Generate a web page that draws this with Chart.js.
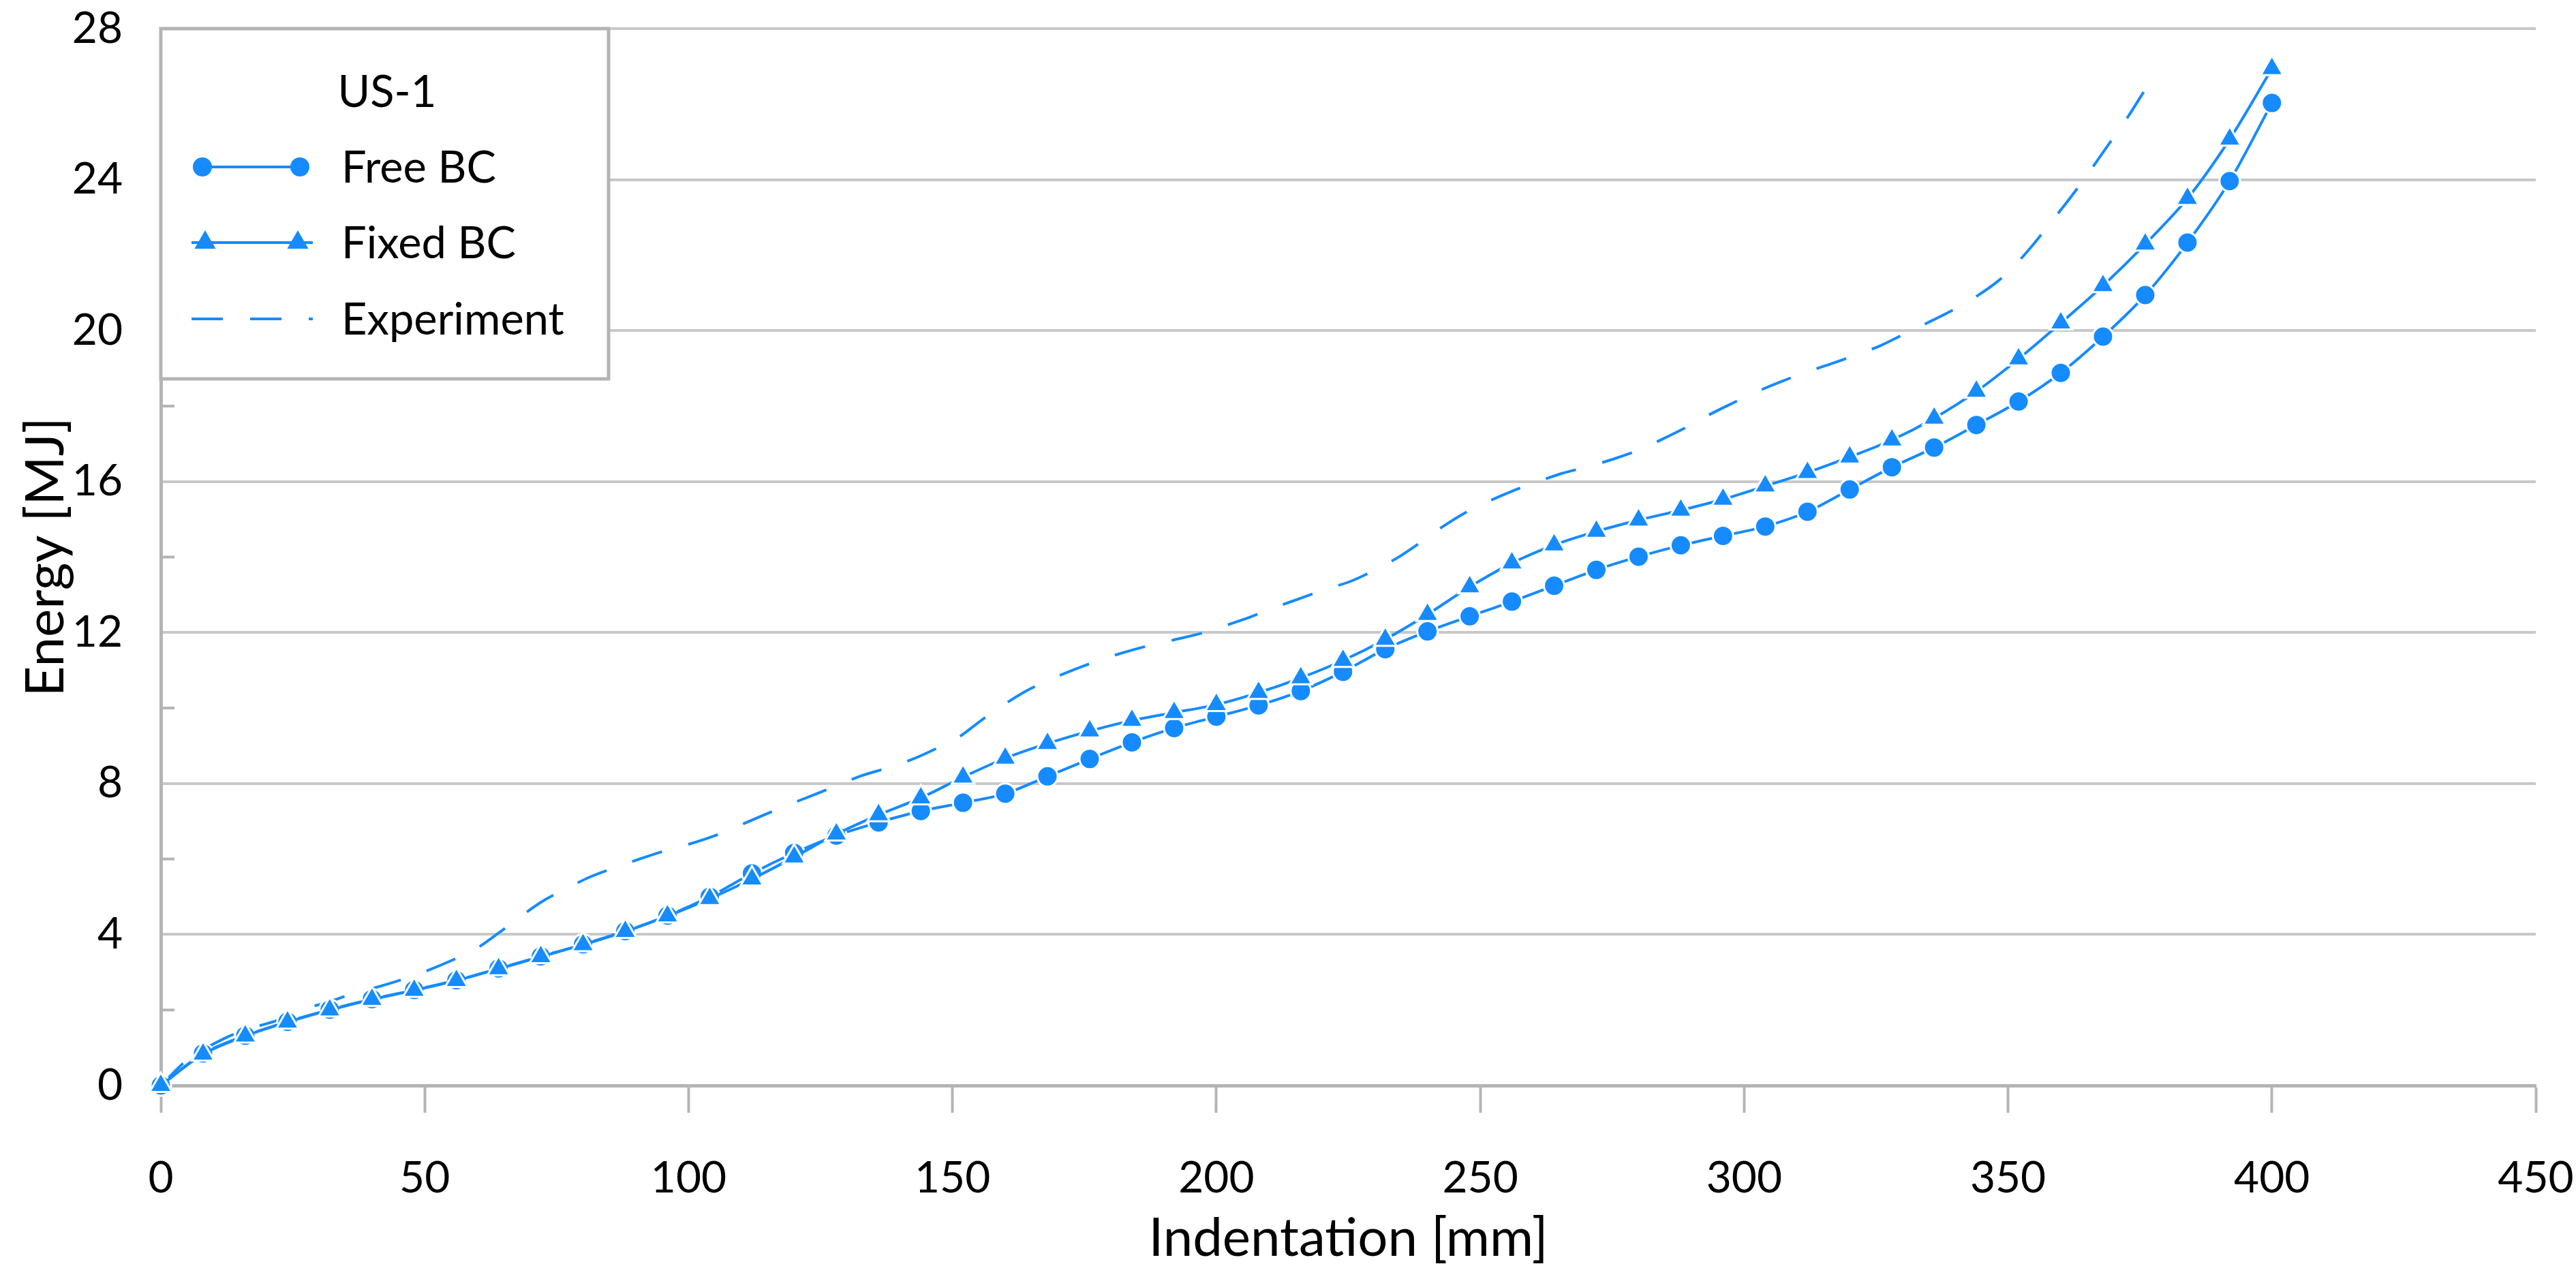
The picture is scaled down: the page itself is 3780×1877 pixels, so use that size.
<!DOCTYPE html>
<html>
<head>
<meta charset="utf-8">
<title>US-1 Energy vs Indentation</title>
<script src="https://cdn.jsdelivr.net/npm/chart.js@4.4.1/dist/chart.umd.min.js"></script>
<style>
  html, body { margin: 0; padding: 0; background: #fff; }
  canvas { display: block; }
</style>
</head>
<body>
<canvas id="myChart" width="3780" height="1877"></canvas>
<script>
// simulation steps [mm]
const simX = [0, 8, 16, 24, 32, 40, 48, 56, 64, 72, 80, 88, 96, 104, 112, 120, 128, 136, 144, 152,
  160, 168, 176, 184, 192, 200, 208, 216, 224, 232, 240, 248, 256, 264, 272, 280, 288, 296, 304,
  312, 320, 328, 336, 344, 352, 360, 368, 376, 384, 392, 400];

// energy [MJ]
const freeBC = [0, 0.85, 1.32, 1.69, 2.01, 2.29, 2.53, 2.79, 3.10, 3.42, 3.74, 4.09, 4.50, 5.00, 5.62,
  6.16, 6.62, 6.97, 7.27, 7.49, 7.73, 8.19, 8.65, 9.09, 9.47, 9.77, 10.07, 10.45, 10.96, 11.56, 12.03,
  12.43, 12.82, 13.24, 13.66, 14.01, 14.31, 14.56, 14.81, 15.20, 15.79, 16.38, 16.90, 17.50, 18.12,
  18.88, 19.84, 20.94, 22.33, 23.96, 26.03];

const fixedBC = [0, 0.83, 1.31, 1.68, 2.00, 2.28, 2.52, 2.78, 3.09, 3.41, 3.73, 4.08, 4.49, 4.95, 5.47,
  6.05, 6.66, 7.17, 7.62, 8.17, 8.67, 9.06, 9.39, 9.67, 9.88, 10.09, 10.41, 10.80, 11.26, 11.82, 12.48,
  13.21, 13.84, 14.32, 14.68, 14.98, 15.24, 15.53, 15.88, 16.24, 16.65, 17.10, 17.68, 18.39, 19.25,
  20.20, 21.19, 22.29, 23.50, 25.07, 26.94];

// experiment curve
const expX = [0, 5.4, 12.4, 17.2, 22.0, 26.8, 31.2, 36.4, 41.1, 46.0, 50.6, 55.4, 59.7, 64.0, 67.8,
  72.3, 76.6, 81.1, 85.6, 90.5, 95.1, 100.0, 104.8, 109.5, 114.0, 118.8, 123.2, 128.2, 132.6, 137.6,
  142.2, 147.0, 151.2, 155.5, 159.2, 163.8, 168.1, 172.9, 177.5, 182.4, 187.1, 192.1, 196.9, 201.8,
  206.4, 211.2, 215.8, 220.8, 225.3, 230.1, 234.3, 238.7, 242.6, 247.1, 251.3, 256.1, 260.7, 265.6,
  270.3, 275.3, 279.8, 284.6, 288.8, 293.5, 297.7, 302.4, 306.9, 311.9, 316.3, 321.3, 325.8, 330.5,
  334.8, 339.5, 343.5, 348.0, 351.5, 354.9, 357.9, 361.2, 364.0, 367.1, 369.8, 372.8, 376.4];
const expY = [0, 0.72, 1.27, 1.52, 1.72, 2.01, 2.19, 2.43, 2.61, 2.82, 3.05, 3.33, 3.62, 4.04, 4.44,
  4.88, 5.20, 5.51, 5.75, 5.99, 6.20, 6.39, 6.61, 6.88, 7.15, 7.43, 7.67, 7.95, 8.20, 8.41,
  8.63, 8.93, 9.23, 9.68, 10.04, 10.44, 10.73, 11.01, 11.25, 11.47, 11.65, 11.81, 11.97, 12.19,
  12.41, 12.67, 12.90, 13.15, 13.35, 13.66, 13.98, 14.39, 14.78, 15.17, 15.46, 15.75, 15.99, 16.22,
  16.39, 16.60, 16.82, 17.13, 17.42, 17.78, 18.07, 18.38, 18.64, 18.91, 19.11, 19.36, 19.60, 19.92,
  20.21, 20.54, 20.86, 21.30, 21.76, 22.30, 22.83, 23.41, 23.93, 24.54, 25.08, 25.68, 26.48];

// axis ticks
const xTicks = [0, 50, 100, 150, 200, 250, 300, 350, 400, 450];
const yTicks = [0, 4, 8, 12, 16, 20, 24, 28];
const yMinorTicks = [2, 6, 10, 14, 18, 22, 26];

const legendTitle = 'US-1';
const blue = '#158bff';
const axisGrey = '#b4b4b4';
const gridGrey = '#c8c8c8';
const fontFamily = 'Lato, "Open Sans", sans-serif';

function toPoints(xs, ys) {
  return xs.map((x, i) => ({ x: x, y: ys[i] }));
}

// minor tick marks on the inside of the y axis
const minorTicks = {
  id: 'minorTicks',
  beforeDatasetsDraw(chart) {
    const ctx = chart.ctx;
    const y = chart.scales.y;
    const left = chart.chartArea.left;
    ctx.save();
    ctx.strokeStyle = axisGrey;
    ctx.lineWidth = 4;
    yMinorTicks.forEach(v => {
      const py = y.getPixelForValue(v);
      ctx.beginPath();
      ctx.moveTo(left, py);
      ctx.lineTo(left + 20, py);
      ctx.stroke();
    });
    ctx.restore();
  }
};

// boxed legend in the top-left corner, with line + two markers per entry
const legendBox = {
  id: 'legendBox',
  afterDraw(chart) {
    const ctx = chart.ctx;
    const x0 = chart.chartArea.left;
    const y0 = chart.chartArea.top;
    const w = 657, h = 514;
    ctx.save();
    ctx.fillStyle = '#fff';
    ctx.fillRect(x0, y0, w, h);
    ctx.strokeStyle = axisGrey;
    ctx.lineWidth = 5;
    ctx.strokeRect(x0, y0, w, h);

    ctx.fillStyle = '#000';
    ctx.font = '65px ' + fontFamily;
    ctx.textBaseline = 'alphabetic';
    ctx.textAlign = 'center';
    ctx.fillText(legendTitle, x0 + 332, y0 + 92 + 23);

    const rows = [203, 314, 426];
    chart.data.datasets.forEach((ds, i) => {
      const ry = y0 + rows[i];
      ctx.save();
      ctx.strokeStyle = ds.borderColor;
      ctx.lineWidth = ds.borderWidth;
      ctx.setLineDash(ds.borderDash || []);
      ctx.beginPath();
      if (ds.pointStyle === 'circle') {
        ctx.moveTo(x0 + 61, ry);
        ctx.lineTo(x0 + 204, ry);
      } else {
        ctx.moveTo(x0 + 45, ry);
        ctx.lineTo(x0 + 223, ry);
      }
      ctx.stroke();
      ctx.restore();

      if (ds.pointRadius > 0) {
        const px = ds.pointStyle === 'circle' ? [61, 204] : [65, 201];
        px.forEach(dx => {
          ctx.save();
          ctx.fillStyle = ds.pointBackgroundColor;
          ctx.strokeStyle = ds.pointBackgroundColor;
          Chart.helpers.drawPoint(ctx, {
            pointStyle: ds.pointStyle,
            radius: ds.pointRadius - 1,
            rotation: 0,
            borderWidth: 0
          }, x0 + dx, ry);
          ctx.restore();
        });
      }

      ctx.fillStyle = '#000';
      ctx.textAlign = 'left';
      ctx.fillText(ds.label, x0 + 265, ry + 23);
    });
    ctx.restore();
  }
};

new Chart(document.getElementById('myChart'), {
  type: 'line',
  data: {
    datasets: [
      {
        label: 'Free BC',
        data: toPoints(simX, freeBC),
        borderColor: blue,
        borderWidth: 4,
        pointStyle: 'circle',
        pointRadius: 15,
        pointBackgroundColor: blue,
        pointBorderColor: '#fff',
        pointBorderWidth: 3,
        tension: 0.3,
        order: 2,
        clip: 30
      },
      {
        label: 'Fixed BC',
        data: toPoints(simX, fixedBC),
        borderColor: blue,
        borderWidth: 4,
        pointStyle: 'triangle',
        pointRadius: 19,
        pointBackgroundColor: blue,
        pointBorderColor: '#fff',
        pointBorderWidth: 3,
        tension: 0.3,
        order: 1,
        clip: 30
      },
      {
        label: 'Experiment',
        data: toPoints(expX, expY),
        borderColor: blue,
        borderWidth: 4,
        borderDash: [46, 40],
        pointRadius: 0,
        tension: 0.3,
        order: 3,
        clip: 30
      }
    ]
  },
  options: {
    responsive: false,
    devicePixelRatio: 1,
    animation: false,
    layout: { padding: { top: 42, right: 59, left: 0, bottom: 0 } },
    plugins: {
      legend: { display: false },
      tooltip: { enabled: false }
    },
    scales: {
      x: {
        type: 'linear',
        min: 0,
        max: 450,
        afterBuildTicks: scale => { scale.ticks = xTicks.map(v => ({ value: v })); },
        afterFit: scale => {
          scale.height = 284;
          scale.paddingLeft = 0;
          scale.paddingRight = 0;
        },
        grid: {
          drawOnChartArea: false,
          drawTicks: true,
          tickLength: 40,
          tickColor: axisGrey,
          tickWidth: 4
        },
        border: { color: axisGrey, width: 5 },
        ticks: {
          autoSkip: false,
          maxRotation: 0,
          padding: 58,
          color: '#000',
          font: { family: fontFamily, size: 64 }
        },
        title: {
          display: true,
          text: 'Indentation [mm]',
          color: '#000',
          font: { family: fontFamily, size: 78 },
          padding: { top: 0, bottom: 12 }
        }
      },
      y: {
        type: 'linear',
        min: 0,
        max: 28,
        afterBuildTicks: scale => { scale.ticks = yTicks.map(v => ({ value: v })); },
        afterFit: scale => {
          scale.width = 236;
          scale.paddingTop = 0;
          scale.paddingBottom = 0;
        },
        grid: {
          color: gridGrey,
          lineWidth: 4,
          drawTicks: false
        },
        border: { color: axisGrey, width: 5 },
        ticks: {
          autoSkip: false,
          padding: 56,
          color: '#000',
          font: { family: fontFamily, size: 64 }
        },
        title: {
          display: true,
          text: 'Energy [MJ]',
          color: '#000',
          font: { family: fontFamily, size: 78 },
          padding: { top: 21, bottom: 0 }
        }
      }
    }
  },
  plugins: [minorTicks, legendBox]
});
</script>
</body>
</html>
